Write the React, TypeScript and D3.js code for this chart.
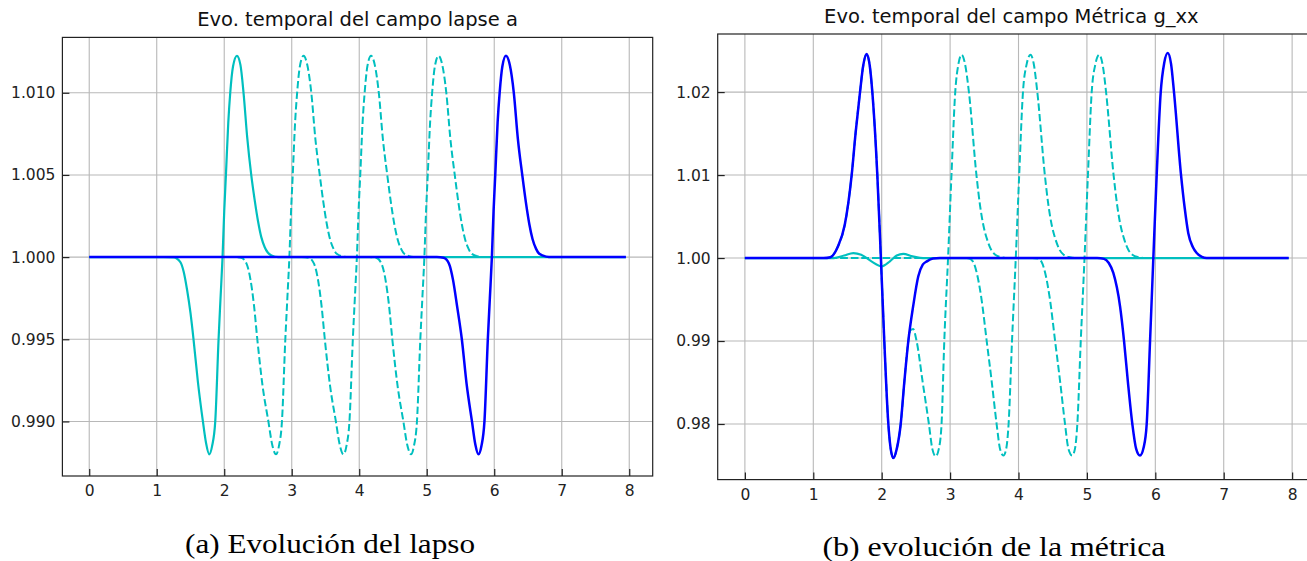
import { useEffect, useRef } from 'react';
import * as d3 from 'd3';

type Pt = [number, number];

// ticks and axis limits
const xTicks = [0, 1, 2, 3, 4, 5, 6, 7, 8];
const xLimits: [number, number] = [-0.3975, 8.3475];
const lapsoTicks = [0.99, 0.995, 1.0, 1.005, 1.01];
const lapsoLimits: [number, number] = [0.98668, 1.01337];
const metricaTicks = [0.98, 0.99, 1.0, 1.01, 1.02];
const metricaLimits: [number, number] = [0.9733, 1.027];

// (a) lapse: cyan solid, three cyan dashed snapshots, blue final
const lapsoInicial: Pt[] = [
  [0, 1], [1.1, 1], [1.25, 0.99998], [1.35, 0.9997], [1.4, 0.9991], [1.45, 0.998], [1.5, 0.9966],
  [1.545, 0.995], [1.61, 0.9924], [1.684, 0.99], [1.73, 0.9887], [1.778, 0.988], [1.82, 0.9885],
  [1.867, 0.99], [1.916, 0.995], [1.945, 0.9975], [1.975, 1], [2.0, 1.0028], [2.025, 1.005],
  [2.06, 1.0082], [2.089, 1.01], [2.13, 1.0116], [2.188, 1.01225], [2.24, 1.0117], [2.286, 1.01],
  [2.34, 1.0073], [2.4, 1.005], [2.45, 1.0035], [2.5, 1.0022], [2.55, 1.0012], [2.6, 1.0006],
  [2.7, 1.0001], [2.8, 1], [7.95, 1],
];
const lapsoT1: Pt[] = [
  [0, 1], [2.15, 1], [2.25, 0.99996], [2.33, 0.9996], [2.39, 0.9986], [2.44, 0.9971], [2.49, 0.995],
  [2.57, 0.9921], [2.654, 0.99], [2.71, 0.9886], [2.767, 0.988], [2.81, 0.9885], [2.855, 0.99],
  [2.905, 0.995], [2.935, 0.9975], [2.965, 1], [2.99, 1.0028], [3.015, 1.005], [3.05, 1.0082],
  [3.08, 1.01], [3.12, 1.0116], [3.175, 1.01225], [3.23, 1.0117], [3.29, 1.01], [3.35, 1.0072],
  [3.415, 1.005], [3.47, 1.0033], [3.52, 1.002], [3.567, 1.0011], [3.62, 1.0005], [3.667, 1.0002],
  [3.77, 1.00003], [3.85, 1], [7.95, 1],
];
const lapsoT2: Pt[] = [
  [0, 1], [3.15, 1], [3.25, 0.99996], [3.33, 0.9996], [3.39, 0.9986], [3.44, 0.9971], [3.49, 0.995],
  [3.57, 0.9921], [3.654, 0.99], [3.71, 0.9886], [3.767, 0.988], [3.81, 0.9885], [3.855, 0.99],
  [3.905, 0.995], [3.935, 0.9975], [3.965, 1], [3.99, 1.0028], [4.015, 1.005], [4.05, 1.0082],
  [4.08, 1.01], [4.12, 1.0116], [4.175, 1.01225], [4.23, 1.0117], [4.29, 1.01], [4.35, 1.0072],
  [4.415, 1.005], [4.47, 1.0033], [4.52, 1.002], [4.567, 1.0011], [4.62, 1.0005], [4.667, 1.0002],
  [4.77, 1.00003], [4.85, 1], [7.95, 1],
];
const lapsoT3: Pt[] = [
  [0, 1], [4.15, 1], [4.25, 0.99996], [4.33, 0.9996], [4.39, 0.9986], [4.44, 0.9971], [4.49, 0.995],
  [4.57, 0.9921], [4.654, 0.99], [4.71, 0.9886], [4.767, 0.988], [4.81, 0.9885], [4.855, 0.99],
  [4.905, 0.995], [4.935, 0.9975], [4.965, 1], [4.99, 1.0028], [5.015, 1.005], [5.05, 1.0082],
  [5.08, 1.01], [5.12, 1.0116], [5.175, 1.01225], [5.23, 1.0117], [5.29, 1.01], [5.35, 1.0072],
  [5.415, 1.005], [5.47, 1.0033], [5.52, 1.002], [5.567, 1.0011], [5.62, 1.0005], [5.667, 1.0002],
  [5.77, 1.00003], [5.85, 1], [7.95, 1],
];
const lapsoFinal: Pt[] = [
  [0, 1], [5.15, 1], [5.25, 0.99996], [5.33, 0.9996], [5.39, 0.9986], [5.45, 0.997], [5.52, 0.995],
  [5.59, 0.9923], [5.67, 0.99], [5.72, 0.9886], [5.767, 0.988], [5.81, 0.9885], [5.855, 0.99],
  [5.905, 0.995], [5.935, 0.9975], [5.965, 1], [5.99, 1.0028], [6.015, 1.005], [6.05, 1.0082],
  [6.08, 1.01], [6.12, 1.0116], [6.173, 1.01225], [6.23, 1.0117], [6.29, 1.01], [6.35, 1.0072],
  [6.415, 1.005], [6.47, 1.0033], [6.52, 1.002], [6.567, 1.0011], [6.62, 1.0005], [6.667, 1.0002],
  [6.77, 1.00003], [6.85, 1], [7.95, 1],
];

// (b) metric g_xx
const metricaInicial: Pt[] = [
  [0, 1], [1.3, 1], [1.45, 1.0003], [1.585, 1.0006], [1.7, 1.0004], [1.85, 0.9996], [2.0, 0.999],
  [2.12, 0.9996], [2.22, 1.0003], [2.315, 1.0005], [2.45, 1.0002], [2.56, 1.00003], [2.65, 1], [7.95, 1],
];
const metricaT1: Pt[] = [
  [0, 1], [1.15, 1], [1.25, 1.0001], [1.36, 1.0014], [1.46, 1.004], [1.561, 1.01], [1.62, 1.0152],
  [1.683, 1.02], [1.73, 1.0232], [1.78, 1.0246], [1.825, 1.0232], [1.863, 1.02], [1.936, 1.01],
  [1.988, 1], [2.038, 0.99], [2.097, 0.98], [2.13, 0.9771], [2.17, 0.9759], [2.22, 0.977],
  [2.278, 0.98], [2.33, 0.985], [2.389, 0.99], [2.42, 0.9913], [2.46, 0.99145], [2.51, 0.99],
  [2.6, 0.985], [2.69, 0.98], [2.74, 0.977], [2.79, 0.9761], [2.835, 0.977], [2.875, 0.98],
  [2.915, 0.99], [2.97, 1], [3.02, 1.01], [3.075, 1.02], [3.12, 1.0233], [3.17, 1.0245],
  [3.22, 1.0233], [3.275, 1.02], [3.385, 1.01], [3.44, 1.0062], [3.49, 1.0038], [3.535, 1.0024],
  [3.6, 1.001], [3.66, 1.0004], [3.75, 1.0001], [3.85, 1], [7.95, 1],
];
const metricaT2: Pt[] = [
  [0, 1], [3.2, 1], [3.28, 0.99995], [3.34, 0.9995], [3.39, 0.9982], [3.46, 0.995], [3.535, 0.99],
  [3.61, 0.985], [3.68, 0.98], [3.73, 0.977], [3.78, 0.9762], [3.82, 0.977], [3.855, 0.98],
  [3.905, 0.99], [3.96, 1], [4.01, 1.01], [4.065, 1.02], [4.12, 1.0234], [4.175, 1.0245],
  [4.225, 1.0233], [4.275, 1.02], [4.385, 1.01], [4.44, 1.0062], [4.49, 1.0038], [4.535, 1.0024],
  [4.6, 1.001], [4.66, 1.0004], [4.75, 1.0001], [4.85, 1], [7.95, 1],
];
const metricaT3: Pt[] = [
  [0, 1], [4.2, 1], [4.28, 0.99995], [4.34, 0.9995], [4.39, 0.9982], [4.46, 0.995], [4.535, 0.99],
  [4.61, 0.985], [4.68, 0.98], [4.73, 0.977], [4.785, 0.9762], [4.825, 0.977], [4.86, 0.98],
  [4.91, 0.99], [4.965, 1], [5.015, 1.01], [5.07, 1.02], [5.125, 1.0234], [5.18, 1.0245],
  [5.23, 1.0233], [5.28, 1.02], [5.39, 1.01], [5.445, 1.0062], [5.495, 1.0038], [5.54, 1.0024],
  [5.605, 1.001], [5.665, 1.0004], [5.755, 1.0001], [5.85, 1], [7.95, 1],
];
const metricaAzul: Pt[] = [
  [0, 1], [1.15, 1], [1.25, 1.0001], [1.36, 1.0014], [1.46, 1.004], [1.561, 1.01], [1.62, 1.0152],
  [1.683, 1.02], [1.73, 1.0232], [1.78, 1.0246], [1.825, 1.0232], [1.863, 1.02], [1.936, 1.01],
  [1.988, 1], [2.038, 0.99], [2.097, 0.98], [2.13, 0.9771], [2.17, 0.9759], [2.22, 0.977],
  [2.278, 0.98], [2.33, 0.985], [2.389, 0.99], [2.46, 0.9942], [2.535, 0.9978], [2.6, 0.9992],
  [2.66, 0.9996], [2.75, 0.99995], [2.85, 1], [5.15, 1], [5.25, 0.9999], [5.32, 0.9994],
  [5.386, 0.9982], [5.484, 0.9942], [5.543, 0.99], [5.6, 0.985], [5.664, 0.98], [5.72, 0.977],
  [5.776, 0.9762], [5.83, 0.9772], [5.874, 0.98], [5.923, 0.99], [5.971, 1], [6.02, 1.01],
  [6.079, 1.02], [6.13, 1.0235], [6.181, 1.0247], [6.23, 1.0234], [6.273, 1.02], [6.376, 1.01],
  [6.43, 1.006], [6.482, 1.003], [6.55, 1.0013], [6.605, 1.0006], [6.68, 1.00015], [6.75, 1], [7.95, 1],
];

const CYAN = '#00bfbf';
const BLUE = '#0000ff';

const panels = [
  {
    id: 'a',
    box: { left: 62.4, right: 652.7, top: 37.4, bottom: 476 },
    yTicks: lapsoTicks,
    yLimits: lapsoLimits,
    yFormat: '.3f',
    title: 'Evo. temporal del campo lapse a',
    caption: '(a) Evolución del lapso',
    captionX: 330,
    captionY: 553,
    captionWidth: 290,
    series: [
      { data: lapsoInicial, color: CYAN, dash: false },
      { data: lapsoT1, color: CYAN, dash: true },
      { data: lapsoT2, color: CYAN, dash: true },
      { data: lapsoT3, color: CYAN, dash: true },
      { data: lapsoFinal, color: BLUE, dash: false },
    ],
  },
  {
    id: 'b',
    box: { left: 717.7, right: 1315.9, top: 34, bottom: 479.6 },
    yTicks: metricaTicks,
    yLimits: metricaLimits,
    yFormat: '.2f',
    title: 'Evo. temporal del campo Métrica g_xx',
    caption: '(b) evolución de la métrica',
    captionX: 994,
    captionY: 556,
    captionWidth: 343,
    series: [
      { data: metricaInicial, color: CYAN, dash: false },
      { data: metricaT1, color: CYAN, dash: true },
      { data: metricaT2, color: CYAN, dash: true },
      { data: metricaT3, color: CYAN, dash: true },
      { data: metricaAzul, color: BLUE, dash: false },
    ],
  },
];

export default function App() {
  const svgRef = useRef<SVGSVGElement>(null);

  useEffect(() => {
    const svg = d3.select(svgRef.current);
    svg.selectAll('*').remove();

    panels.forEach(p => {
      const { left, right, top, bottom } = p.box;
      const x = d3.scaleLinear().domain(xLimits).range([left, right]);
      const y = d3.scaleLinear().domain(p.yLimits).range([bottom, top]);
      const g = svg.append('g');

      g.append('clipPath')
        .attr('id', `clip-${p.id}`)
        .append('rect')
        .attr('x', left)
        .attr('y', top)
        .attr('width', right - left)
        .attr('height', bottom - top);

      // grid
      g.append('g')
        .selectAll('line')
        .data(xTicks)
        .join('line')
        .attr('x1', d => x(d))
        .attr('x2', d => x(d))
        .attr('y1', top)
        .attr('y2', bottom)
        .attr('stroke', '#b8b8b8')
        .attr('stroke-width', 1.1);
      g.append('g')
        .selectAll('line')
        .data(p.yTicks)
        .join('line')
        .attr('x1', left)
        .attr('x2', right)
        .attr('y1', d => y(d))
        .attr('y2', d => y(d))
        .attr('stroke', '#b8b8b8')
        .attr('stroke-width', 1.1);

      // curves
      const line = d3
        .line<Pt>()
        .x(d => x(d[0]))
        .y(d => y(d[1]))
        .curve(d3.curveMonotoneX);
      const lines = g.append('g').attr('clip-path', `url(#clip-${p.id})`);
      p.series.forEach(s => {
        lines
          .append('path')
          .attr('d', line(s.data))
          .attr('fill', 'none')
          .attr('stroke', s.color)
          .attr('stroke-width', s.dash ? 2 : s.color === BLUE ? 2.5 : 2.2)
          .attr('stroke-dasharray', s.dash ? '7.4,3.2' : null)
          .attr('stroke-linejoin', 'round');
      });

      // axes, ticks pointing inwards
      const xAxis = d3.axisBottom(x).tickValues(xTicks).tickSize(-7).tickPadding(9).tickFormat(d3.format('d'));
      const yAxis = d3.axisLeft(y).tickValues(p.yTicks).tickSize(-7).tickPadding(7).tickFormat(d3.format(p.yFormat));
      [
        g.append('g').attr('transform', `translate(0,${bottom})`).call(xAxis),
        g.append('g').attr('transform', `translate(${left},0)`).call(yAxis),
      ].forEach(a => {
        a.select('.domain').remove();
        a.selectAll('line').attr('stroke', '#222').attr('stroke-width', 1.2);
        a.selectAll('text').attr('fill', '#222').style('font', '15.5px "DejaVu Sans"');
      });

      g.append('rect')
        .attr('x', left)
        .attr('y', top)
        .attr('width', right - left)
        .attr('height', bottom - top)
        .attr('fill', 'none')
        .attr('stroke', '#222')
        .attr('stroke-width', 1.2);

      g.append('text')
        .attr('x', (left + Math.min(right, 1305)) / 2)
        .attr('y', top - 11)
        .attr('text-anchor', 'middle')
        .attr('fill', '#111')
        .style('font', '19.5px "DejaVu Sans"')
        .text(p.title);

      g.append('text')
        .attr('x', p.captionX)
        .attr('y', p.captionY)
        .attr('text-anchor', 'middle')
        .attr('fill', '#000')
        .attr('textLength', p.captionWidth)
        .attr('lengthAdjust', 'spacingAndGlyphs')
        .style('font', '27px "Liberation Serif"')
        .text(p.caption);
    });
  }, []);

  return (
    <svg
      ref={svgRef}
      width={1307}
      height={561}
      style={{ position: 'absolute', left: 0, top: 0, background: '#fff' }}
    />
  );
}
